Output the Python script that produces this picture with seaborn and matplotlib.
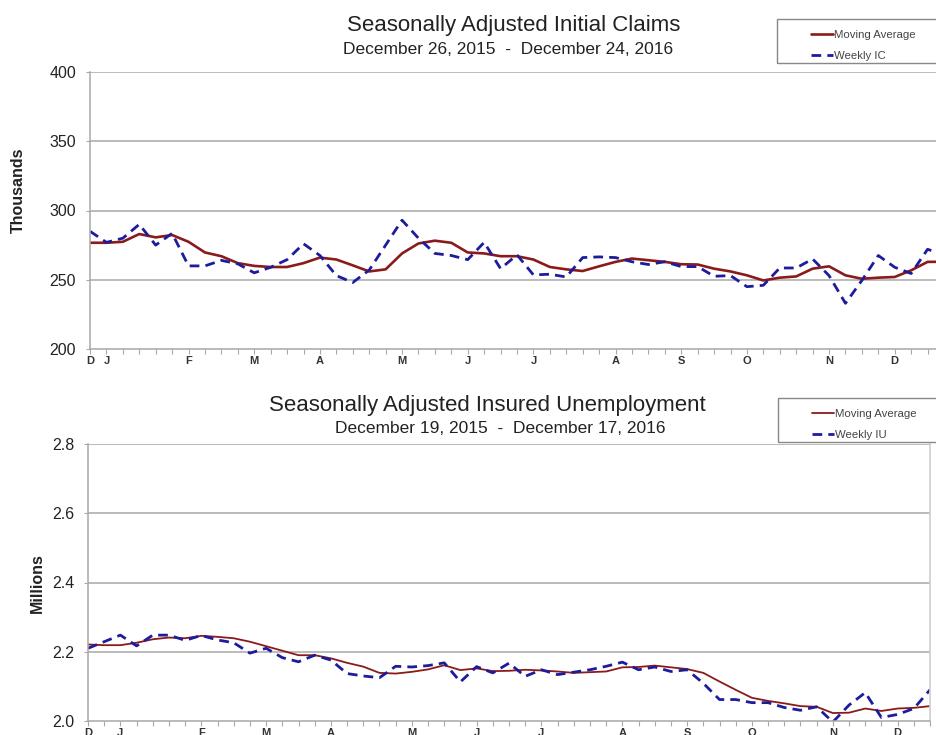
import numpy as np
import pandas as pd
import matplotlib
matplotlib.use("Agg")
import matplotlib.pyplot as plt
from matplotlib.patches import Rectangle
import seaborn as sns

# Initial claims (thousands), weeks ending Dec 26 2015 .. Dec 24 2016
ic_weekly = [285, 277, 280, 290, 275, 283.5, 260, 260, 264, 261.5, 255, 259, 264.5, 276,
             267.5, 253, 248, 257, 275, 293, 280, 269, 267.5, 264.5, 277, 258, 268, 253.5,
             254, 252, 266, 266.5, 266, 263, 261, 263, 259.5, 259.5, 252.5, 253, 245, 246,
             258.5, 258.5, 265, 253, 233, 249.5, 267.5, 259, 254.5, 272, 268]
ic_moving_avg = [276.7, 276.7, 277.4, 283, 280.6, 282.3, 277.4, 269.7, 267, 262, 260, 259.2,
                 259.2, 262, 266, 264.6, 260.4, 256, 257.5, 269, 276.2, 278.2, 276.7, 269.7,
                 269, 267, 267, 264.6, 259.2, 257.5, 256.3, 259.7, 262.9, 265.3, 264.1, 262.9,
                 261.2, 261, 258, 256, 253.2, 249.5, 251.5, 252.4, 258, 259.7, 253.2, 250.7,
                 251.5, 252, 256.8, 262.9, 263]

# Insured unemployment (millions), weeks ending Dec 19 2015 .. Dec 17 2016
iu_weekly = [2.21, 2.229, 2.248, 2.217, 2.248, 2.248, 2.233, 2.247, 2.234, 2.226, 2.196, 2.21,
             2.183, 2.171, 2.19, 2.176, 2.137, 2.13, 2.125, 2.158, 2.156, 2.16, 2.168, 2.113,
             2.157, 2.139, 2.167, 2.129, 2.148, 2.134, 2.141, 2.148, 2.158, 2.17, 2.148, 2.156,
             2.143, 2.148, 2.109, 2.062, 2.062, 2.053, 2.053, 2.039, 2.031, 2.041, 1.997, 2.046,
             2.082, 2.01, 2.019, 2.036, 2.09]
iu_moving_avg = [2.221, 2.219, 2.219, 2.226, 2.236, 2.241, 2.239, 2.246, 2.243, 2.239, 2.229,
                 2.216, 2.203, 2.19, 2.19, 2.181, 2.168, 2.157, 2.139, 2.137, 2.142, 2.149,
                 2.161, 2.147, 2.152, 2.144, 2.145, 2.148, 2.146, 2.143, 2.139, 2.141, 2.143,
                 2.155, 2.156, 2.16, 2.155, 2.15, 2.139, 2.114, 2.09, 2.067, 2.058, 2.051,
                 2.043, 2.041, 2.023, 2.024, 2.036, 2.029, 2.036, 2.038, 2.043]

ic_weeks = pd.date_range("2015-12-26", "2016-12-24", freq="W-SAT")
iu_weeks = pd.date_range("2015-12-19", "2016-12-17", freq="W-SAT")

MA_COLOR = "#8b1a1a"
WK_COLOR = "#1c1c9c"
GRID = "#a8a8a8"
TXT = "#222222"

sns.set_theme(style="white")
plt.rcParams["font.family"] = ["Liberation Sans", "DejaVu Sans"]

W, H = 936, 735
fig = plt.figure(figsize=(W / 100, H / 100), dpi=100)


def px_axes(left, top, right, bottom):
    return fig.add_axes([left / W, 1 - bottom / H, (right - left) / W, (bottom - top) / H])


def style_panel(ax, weeks, ylim, yticks, yfmt, right_spine):
    ax.set_xlim(weeks[0], weeks[-1])
    ax.set_ylim(*ylim)
    ax.set_yticks(yticks)
    ax.set_yticklabels([yfmt.format(v) for v in yticks], fontsize=11.5, color=TXT)
    for v in yticks[1:]:
        ax.axhline(v, color=GRID, lw=1.1, zorder=0)
    # weekly ticks, month letters on first Saturday of each month
    ax.set_xticks(weeks)
    labels = [d.strftime("%b")[0] if (i == 0 or d.day <= 7) else "" for i, d in enumerate(weeks)]
    ax.set_xticklabels(labels, fontsize=8, color="#333333", fontweight="bold")
    ax.tick_params(axis="x", length=3.5, width=0.8, color=GRID, pad=1.5, bottom=True)
    ax.tick_params(axis="y", length=3, width=0.8, color=GRID, pad=7, left=True)
    for s in ["top", "right"]:
        ax.spines[s].set_visible(False)
    for s in ["left", "bottom"]:
        ax.spines[s].set_color(GRID)
        ax.spines[s].set_linewidth(1.1)
    if right_spine:
        ax.spines["right"].set_visible(True)
        ax.spines["right"].set_color("#d0d0d0")
    ax.set_xlabel("")
    ax.set_ylabel("")


def legend_box(ax, x0, y0, label2):
    fig.patches.append(Rectangle((x0 / W, 1 - (y0 + 44) / H), 200 / W, 44 / H,
                                 transform=fig.transFigure, fill=False,
                                 edgecolor="#888888", lw=1, zorder=5))
    handles, _ = ax.get_legend_handles_labels()
    ax.legend(handles, ["Moving Average", label2], frameon=False, loc="upper left",
              bbox_to_anchor=((x0 + 28) / W, 1 - (y0 + 5) / H), bbox_transform=fig.transFigure,
              fontsize=8.2, handlelength=2.0, handletextpad=0.05, borderpad=0,
              labelspacing=0.95, labelcolor="#444444")


# ---- top panel: initial claims ----
ax1 = px_axes(90, 72, 944, 349)
sns.lineplot(x=ic_weeks, y=ic_moving_avg, ax=ax1, color=MA_COLOR, lw=1.9, label="Moving Average")
sns.lineplot(x=ic_weeks, y=ic_weekly, ax=ax1, color=WK_COLOR, lw=2.0,
             linestyle=(0, (3.5, 2.2)), label="Weekly IC")
style_panel(ax1, ic_weeks, (200, 400), [200, 250, 300, 350, 400], "{:.0f}", False)
legend_box(ax1, 777, 19, "Weekly IC")

fig.text(514 / W, 1 - 31 / H, "Seasonally Adjusted Initial Claims", ha="center", va="baseline",
         fontsize=16, color=TXT)
fig.text(508 / W, 1 - 54 / H, "December 26, 2015  -  December 24, 2016", ha="center",
         va="baseline", fontsize=12.5, color=TXT)
fig.text(18 / W, 1 - 190 / H, "Thousands", rotation=90, ha="center", va="center",
         fontsize=11.5, fontweight="bold", color=TXT)

# ---- bottom panel: insured unemployment ----
ax2 = px_axes(88, 444, 930, 721)
sns.lineplot(x=iu_weeks, y=iu_moving_avg, ax=ax2, color=MA_COLOR, lw=1.3, label="Moving Average")
sns.lineplot(x=iu_weeks, y=iu_weekly, ax=ax2, color=WK_COLOR, lw=2.0,
             linestyle=(0, (3.5, 2.2)), label="Weekly IU")
style_panel(ax2, iu_weeks, (2.0, 2.8), [2.0, 2.2, 2.4, 2.6, 2.8], "{:.1f}", True)
legend_box(ax2, 778, 398, "Weekly IU")

fig.text(487 / W, 1 - 410.5 / H, "Seasonally Adjusted Insured Unemployment", ha="center",
         va="baseline", fontsize=16, color=TXT)
fig.text(500 / W, 1 - 433 / H, "December 19, 2015  -  December 17, 2016", ha="center",
         va="baseline", fontsize=12.5, color=TXT)
fig.text(37 / W, 1 - 583 / H, "Millions", rotation=90, ha="center", va="center",
         fontsize=11.5, fontweight="bold", color=TXT)

fig.savefig("out.png", dpi=100, facecolor="white")
